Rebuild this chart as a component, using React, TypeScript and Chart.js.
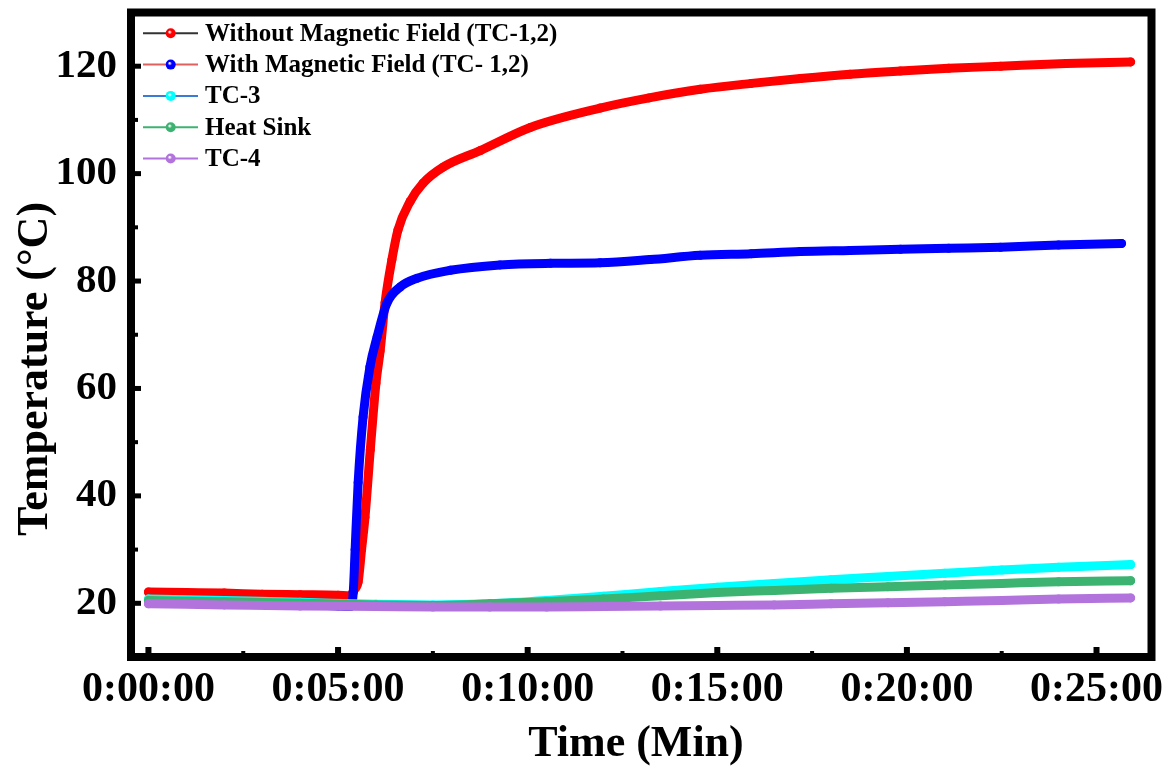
import { useEffect, useRef } from 'react';
import { Chart, registerables } from 'chart.js';

Chart.register(...registerables);

const FONT = "'Liberation Serif', 'Times New Roman', serif";

// ---- data (time in minutes, temperature in °C) ----
const seriesNames = [
  'Without Magnetic Field (TC-1,2)',
  'With Magnetic Field (TC- 1,2)',
  'TC-3',
  'Heat Sink',
  'TC-4',
];

const withoutTime = [0, 1, 2, 3, 4, 5, 5.32, 5.42, 5.53, 5.62, 5.71, 5.85, 6.0, 6.11, 6.24, 6.42, 6.58, 6.9, 7.24, 7.77, 8.75, 10.07, 11.91, 13.2, 14.55, 15.9, 17.19, 18.5, 19.83, 21.1, 22.47, 24.2, 25.9];
const withoutTemp = [22.1, 22.0, 21.9, 21.7, 21.6, 21.5, 21.4, 22.5, 24, 30, 36, 48.6, 61, 67, 76, 84, 89.5, 94.8, 98.2, 101.2, 104.3, 108.6, 112.2, 114.1, 115.7, 116.8, 117.7, 118.5, 119.1, 119.6, 120, 120.5, 120.8];

const withTime = [0, 1, 2, 3, 4, 5, 5.32, 5.4, 5.45, 5.53, 5.66, 5.84, 6.03, 6.29, 6.64, 7.08, 7.96, 9.27, 10.6, 11.91, 13.23, 14.55, 15.9, 17.19, 18.5, 19.83, 21.1, 22.47, 24, 25.66];
const withTemp = [20.6, 20.4, 20.2, 20.0, 19.8, 19.5, 19.4, 22, 30, 42.5, 54.7, 64, 69.6, 75.9, 78.9, 80.5, 82, 83, 83.3, 83.4, 84, 84.8, 85.1, 85.5, 85.7, 85.9, 86.1, 86.3, 86.7, 87];

const slowTime = [0, 2, 4, 6, 7.5, 9, 10.5, 12, 13.5, 15, 16.5, 18, 19.5, 21, 22.5, 24, 25.9];
const tc3Temp = [20.8, 20.5, 20.2, 19.8, 19.7, 19.9, 20.5, 21.3, 22.2, 23.0, 23.7, 24.4, 25.0, 25.6, 26.2, 26.7, 27.2];
const heatSinkTemp = [20.5, 20.3, 20.0, 19.7, 19.6, 19.9, 20.3, 20.8, 21.4, 22.0, 22.4, 22.8, 23.1, 23.4, 23.7, 24.0, 24.2];
const tc4Temp = [19.9, 19.7, 19.5, 19.4, 19.3, 19.3, 19.3, 19.4, 19.5, 19.6, 19.7, 19.9, 20.1, 20.3, 20.5, 20.8, 21.0];

const xTickMinutes = [0, 5, 10, 15, 20, 25];
const xTickLabels = ['0:00:00', '0:05:00', '0:10:00', '0:15:00', '0:20:00', '0:25:00'];
const xMinorMinutes = [2.5, 7.5, 12.5, 17.5, 22.5];
const yTickValues = [20, 40, 60, 80, 100, 120];
const yMinorValues = [30, 50, 70, 90, 110];

// ---- styles ----
const markerColors = ['#ff0000', '#0000ff', '#00ffff', '#3cb371', '#b274dc'];
const legendLineColors = ['#333333', '#e06060', '#3a7bd8', '#3cb371', '#b274dc'];

const pairs = (xs: number[], ys: number[]) => xs.map((x, i) => ({ x, y: ys[i] }));

const overlayPlugin = {
  id: 'overlay',
  afterDatasetsDraw(chart: any) {
    const { ctx, chartArea: a, scales } = chart;
    const xs = scales.x;
    const ys = scales.y;
    ctx.save();
    ctx.fillStyle = '#000';
    for (const v of yTickValues) {
      const py = ys.getPixelForValue(v);
      ctx.fillRect(a.left, py - 2.5, 10, 5);
    }
    for (const v of yMinorValues) {
      const py = ys.getPixelForValue(v);
      ctx.fillRect(a.left, py - 2, 7, 4);
    }
    for (const v of xTickMinutes) {
      const px = xs.getPixelForValue(v);
      ctx.fillRect(px - 3, a.bottom - 10, 6, 10);
    }
    for (const v of xMinorMinutes) {
      const px = xs.getPixelForValue(v);
      ctx.fillRect(px - 2, a.bottom - 6, 4, 6);
    }
    ctx.lineWidth = 8;
    ctx.strokeStyle = '#000';
    ctx.strokeRect(a.left, a.top, a.right - a.left, a.bottom - a.top);

    // legend
    ctx.font = `bold 25px ${FONT}`;
    ctx.textBaseline = 'middle';
    ctx.textAlign = 'left';
    seriesNames.forEach((name, i) => {
      const y = 33.3 + i * 31.3;
      ctx.strokeStyle = legendLineColors[i];
      ctx.lineWidth = 2;
      ctx.beginPath();
      ctx.moveTo(143, y);
      ctx.lineTo(198, y);
      ctx.stroke();
      const g = ctx.createRadialGradient(169.5, y - 1.5, 0.5, 170.7, y, 5);
      g.addColorStop(0, '#ffffff');
      g.addColorStop(0.35, markerColors[i]);
      g.addColorStop(1, markerColors[i]);
      ctx.fillStyle = g;
      ctx.beginPath();
      ctx.arc(170.7, y, 5, 0, Math.PI * 2);
      ctx.fill();
      ctx.fillStyle = '#000';
      ctx.fillText(name, 205, y + 1);
    });

    // axis titles
    ctx.fillStyle = '#000';
    ctx.font = `bold 44px ${FONT}`;
    ctx.textAlign = 'center';
    ctx.textBaseline = 'middle';
    ctx.fillText('Time (Min)', 636, 745);
    ctx.save();
    ctx.translate(36, 369);
    ctx.rotate(-Math.PI / 2);
    ctx.fillText('Temperature (°C)', 0, 0);
    ctx.restore();

    ctx.restore();
  },
};

export default function App() {
  const canvasRef = useRef<HTMLCanvasElement | null>(null);

  useEffect(() => {
    document.body.style.margin = '0';
    const canvas = canvasRef.current;
    if (!canvas) return;
    const sets = [
      pairs(withoutTime, withoutTemp),
      pairs(withTime, withTemp),
      pairs(slowTime, tc3Temp),
      pairs(slowTime, heatSinkTemp),
      pairs(slowTime, tc4Temp),
    ];
    const chart = new Chart(canvas, {
      type: 'line',
      data: {
        datasets: sets.map((d, i) => ({
          label: seriesNames[i],
          data: d,
          borderColor: markerColors[i],
          backgroundColor: markerColors[i],
          borderWidth: 9,
          pointRadius: 4.5,
          pointBorderWidth: 0,
          pointBackgroundColor: markerColors[i],
          cubicInterpolationMode: 'monotone',
          borderCapStyle: 'round',
          borderJoinStyle: 'round',
          fill: false,
          order: 5 - i,
        })),
      },
      options: {
        responsive: false,
        animation: false,
        devicePixelRatio: 1,
        layout: { padding: { top: 12.5, right: 24.5, left: 0, bottom: 0 } },
        plugins: { legend: { display: false }, tooltip: { enabled: false } },
        scales: {
          x: {
            type: 'linear',
            min: -0.46,
            max: 26.45,
            grid: { display: false, drawTicks: false },
            border: { display: false },
            afterBuildTicks: (s: any) => {
              s.ticks = xTickMinutes.map((v) => ({ value: v }));
            },
            afterFit: (s: any) => {
              s.height = 114;
              s.paddingLeft = 0;
              s.paddingRight = 0;
            },
            ticks: {
              autoSkip: false,
              maxRotation: 0,
              padding: 8,
              color: '#000',
              font: { family: FONT, size: 42, weight: 'bold' },
              callback: (v: any) => {
                const idx = xTickMinutes.indexOf(Number(v));
                return idx >= 0 ? xTickLabels[idx] : '';
              },
            },
          },
          y: {
            min: 10,
            max: 130,
            grid: { display: false, drawTicks: false },
            border: { display: false },
            afterBuildTicks: (s: any) => {
              s.ticks = yTickValues.map((v) => ({ value: v }));
            },
            afterFit: (s: any) => {
              s.width = 131;
              s.paddingTop = 0;
              s.paddingBottom = 0;
            },
            ticks: {
              padding: 14,
              color: '#000',
              font: { family: FONT, size: 41, weight: 'bold' },
            },
          },
        },
      },
      plugins: [overlayPlugin],
    } as any);
    return () => chart.destroy();
  }, []);

  return (
    <div style={{ width: 1176, height: 771, background: '#fff' }}>
      <canvas ref={canvasRef} width={1176} height={771} />
    </div>
  );
}
